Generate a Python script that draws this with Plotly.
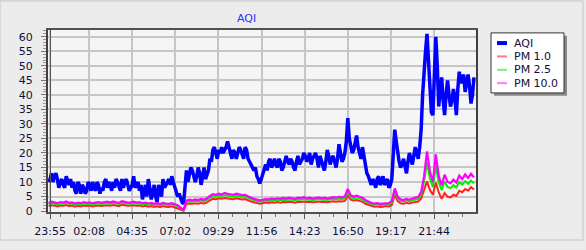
import pandas as pd
import plotly.graph_objects as go

# ---- data ----
start_time = "2024-05-01 23:50"
aqi_step_min = 5     # AQI sampled every 5 minutes
pm_step_min = 10     # PM sampled every 10 minutes

aqi = [10, 11, 13, 10, 12, 13, 11, 8, 10, 11, 9, 8, 12, 10, 9, 11, 8, 10, 7, 6,
       10, 9, 6, 9, 8, 6, 7, 10, 9, 7, 10, 8, 7, 10, 9, 6, 8, 7, 10, 11,
       8, 10, 9, 7, 10, 8, 11, 10, 8, 7, 11, 8, 10, 11, 9, 7, 8, 9, 12, 8,
       9, 10, 7, 9, 4, 7, 9, 5, 11, 8, 4, 6, 9, 5, 3, 9, 7, 5, 11, 8,
       9, 10, 11, 9, 12, 10, 8, 6, 5, 6, 4, 3, 2.5, 10, 14, 10, 12, 15, 14, 12,
       10, 12, 15, 13, 9, 12, 15, 11, 13, 14, 18, 17, 21, 22, 20, 18, 21, 20, 22, 20,
       21, 22, 24, 22, 19, 18, 21, 20, 18, 20, 22, 21, 19, 18, 22, 21, 18, 17, 16, 15,
       14, 15, 12, 11, 9.5, 11, 13, 15, 16, 14, 17, 18, 15, 16, 18, 16, 15, 18, 17, 14,
       15, 17, 19, 17, 16, 18, 17, 15, 14, 17, 19, 16, 17, 18, 20, 19, 17, 18, 20, 16,
       18, 19, 20, 18, 15, 19, 17, 16, 14, 17, 21, 19, 16, 18, 19, 17, 15, 18, 23, 20,
       17, 18, 20, 24, 32, 25, 22, 20, 21, 23, 26, 22, 20, 18, 22, 19, 16, 13, 12, 10,
       9, 11, 10, 8, 11, 12, 9, 10, 12, 9, 10, 11, 8, 9, 11, 20, 28, 24, 20, 17,
       15, 16, 18, 15, 13, 17, 20, 18, 16, 19, 22, 20, 18, 22, 28, 40, 50, 55, 61, 52,
       38, 34, 33, 45, 60, 50, 36, 42, 46, 38, 33, 40, 45, 40, 36, 38, 42, 39, 33, 42,
       48, 44, 46, 47, 41, 44, 47, 43, 37, 40, 46]

pm10 = [2.8, 3.2, 3.0, 2.7, 3.1, 2.9, 3.3, 2.8, 3.0, 2.6,
        2.9, 2.7, 3.1, 2.8, 3.0, 2.7, 2.9, 3.1, 2.8, 3.0,
        3.2, 2.9, 3.3, 3.0, 2.8, 3.4, 3.1, 2.9, 3.0, 3.2,
        2.9, 3.1, 2.7, 2.9, 2.6, 2.8, 2.5, 2.7, 2.4, 2.8,
        2.6, 2.5, 2.7, 2.3, 2.0, 1.2, 0.4,
        3.6, 3.9, 3.7, 4.0, 3.8, 4.2, 3.9, 4.4,
        5.2, 5.8, 5.6, 6.0, 5.7, 6.2, 5.9, 5.8, 5.6, 6.0, 5.7, 5.5, 5.6,
        5.0, 4.6, 4.2, 3.9, 3.7,
        3.9, 4.1, 4.0, 4.3, 4.1, 4.4, 4.2, 4.5, 4.3, 4.6, 4.4, 4.2, 4.6, 4.5, 4.8,
        4.4, 4.6, 4.3, 4.5, 4.7, 4.4, 4.6, 4.3, 4.5, 4.8, 4.6, 4.9, 4.7, 5.0,
        7.6, 5.4, 5.0, 5.3, 4.9, 4.6,
        3.8, 3.2, 2.8, 2.6, 2.7, 2.5, 2.6, 2.8, 2.7,
        3.4, 7.8, 5.0, 4.0, 3.8, 4.2, 3.9, 4.3, 4.6, 4.8, 6.5,
        12.0, 20.5, 13.5, 10.0, 19.5, 12.0, 8.8, 12.5, 10.0, 9.6, 10.8, 9.8,
        12.2, 11.0, 12.6, 11.4, 12.8, 11.6]

pm25 = [2.4, 2.7, 2.6, 2.3, 2.6, 2.5, 2.8, 2.4, 2.6, 2.2,
        2.5, 2.3, 2.6, 2.4, 2.6, 2.3, 2.5, 2.6, 2.4, 2.6,
        2.7, 2.5, 2.8, 2.6, 2.4, 2.9, 2.6, 2.5, 2.6, 2.7,
        2.5, 2.6, 2.3, 2.5, 2.2, 2.4, 2.1, 2.3, 2.0, 2.4,
        2.2, 2.1, 2.3, 1.9, 1.7, 1.0, 0.3,
        3.1, 3.4, 3.2, 3.5, 3.3, 3.6, 3.4, 3.8,
        4.6, 5.1, 5.0, 5.3, 5.1, 5.5, 5.2, 5.1, 5.0, 5.3, 5.0, 4.9, 5.0,
        4.4, 4.1, 3.7, 3.4, 3.2,
        3.4, 3.6, 3.5, 3.8, 3.6, 3.9, 3.7, 3.9, 3.8, 4.0, 3.9, 3.7, 4.0, 3.9, 4.2,
        3.9, 4.0, 3.8, 3.9, 4.1, 3.9, 4.0, 3.8, 3.9, 4.2, 4.0, 4.3, 4.1, 4.4,
        6.6, 4.8, 4.4, 4.7, 4.3, 4.0,
        3.3, 2.8, 2.4, 2.2, 2.3, 2.1, 2.2, 2.4, 2.3,
        2.9, 6.8, 4.4, 3.5, 3.3, 3.6, 3.4, 3.7, 4.0, 4.2, 5.6,
        10.2, 16.8, 11.2, 8.2, 15.5, 9.8, 7.2, 10.2, 8.3, 7.9, 8.9, 8.1,
        10.0, 9.1, 10.3, 9.4, 10.5, 9.6]

pm1 = [1.7, 2.0, 1.9, 1.6, 1.9, 1.8, 2.1, 1.7, 1.9, 1.5,
       1.8, 1.6, 1.9, 1.7, 1.9, 1.6, 1.8, 1.9, 1.7, 1.9,
       2.0, 1.8, 2.1, 1.9, 1.7, 2.2, 1.9, 1.8, 1.9, 2.0,
       1.8, 1.9, 1.6, 1.8, 1.5, 1.7, 1.4, 1.6, 1.3, 1.7,
       1.5, 1.4, 1.6, 1.2, 1.0, 0.5, 0.1,
       2.4, 2.6, 2.5, 2.7, 2.5, 2.8, 2.6, 3.0,
       3.7, 4.2, 4.1, 4.4, 4.2, 4.5, 4.3, 4.2, 4.1, 4.4, 4.1, 4.0, 4.1,
       3.6, 3.3, 3.0, 2.7, 2.5,
       2.7, 2.9, 2.8, 3.0, 2.9, 3.1, 2.9, 3.1, 3.0, 3.2, 3.1, 2.9, 3.2, 3.1, 3.3,
       3.1, 3.2, 3.0, 3.1, 3.3, 3.1, 3.2, 3.0, 3.1, 3.4, 3.2, 3.4, 3.3, 3.5,
       5.3, 3.9, 3.6, 3.8, 3.5, 3.2,
       2.5, 2.1, 1.7, 1.5, 1.6, 1.4, 1.5, 1.7, 1.6,
       2.1, 5.6, 3.4, 2.7, 2.5, 2.8, 2.6, 2.9, 3.2, 3.3, 4.3,
       7.5, 10.2, 7.2, 5.6, 9.8, 6.4, 4.2, 6.2, 5.0, 4.7, 5.6, 5.2,
       7.0, 6.5, 7.6, 7.0, 8.2, 7.4]

tick_labels = ["23:55", "02:08", "04:35", "07:02", "09:29",
               "11:56", "14:23", "16:50", "19:17", "21:44"]

series_names = ["AQI", "PM 1.0", "PM 2.5", "PM 10.0"]
series_colors = ["#0000ff", "#ff2020", "#00ee00", "#ff00ff"]
legend_colors = ["#0000ff", "#ff7a7a", "#7aee7a", "#ff7aff"]
series_widths = [3.5, 2, 2, 2.2]

# ---- build ----
aqi_times = pd.date_range(start_time, periods=len(aqi), freq=f"{aqi_step_min}min")
pm_times = pd.date_range(start_time, periods=len(pm10), freq=f"{pm_step_min}min")
day0 = pd.Timestamp("2024-05-01")
tickvals = []
for lab in tick_labels:
    hh, mm = map(int, lab.split(":"))
    d = day0 if hh == 23 else day0 + pd.Timedelta(days=1)
    tickvals.append(d + pd.Timedelta(hours=hh, minutes=mm))

x_range = [day0 + pd.Timedelta(hours=23, minutes=48),
           day0 + pd.Timedelta(days=2, minutes=7)]

fig = go.Figure()
for name, xs, ys, col, w in zip(series_names,
                                [aqi_times, pm_times, pm_times, pm_times],
                                [aqi, pm1, pm25, pm10],
                                series_colors, series_widths):
    fig.add_trace(go.Scatter(x=xs, y=ys, mode="lines", name=name,
                             line=dict(color=col, width=w),
                             showlegend=False))

W, H = 586, 250
L, R, T, B = 48, 476, 30, 218


def px(xp):
    return (xp - L) / (R - L)


def py(yp):
    return (B - yp) / (B - T)


shapes = []
annotations = []
# outer frame
shapes.append(dict(type="rect", xref="paper", yref="paper",
                   x0=px(0), x1=px(583), y0=py(247), y1=py(0),
                   line=dict(color="#c4c4c4", width=1), layer="below"))
# legend shadow + box
shapes.append(dict(type="rect", xref="paper", yref="paper",
                   x0=px(494), x1=px(567), y0=py(98), y1=py(36),
                   fillcolor="#8a8a8a", line=dict(width=0), layer="above"))
shapes.append(dict(type="rect", xref="paper", yref="paper",
                   x0=px(491), x1=px(564), y0=py(95), y1=py(33),
                   fillcolor="#ffffff", line=dict(color="#333333", width=1),
                   layer="above"))
for i, (name, col, w) in enumerate(zip(series_names, legend_colors, series_widths)):
    yy = 43.5 + i * 13.8
    shapes.append(dict(type="line", xref="paper", yref="paper",
                       x0=px(497), x1=px(507), y0=py(yy), y1=py(yy),
                       line=dict(color=col, width=4 if i == 0 else 2),
                       layer="above"))
    annotations.append(dict(xref="paper", yref="paper", x=px(512), y=py(yy),
                            text=name, showarrow=False, xanchor="left",
                            yanchor="middle",
                            font=dict(family="DejaVu Sans", size=11,
                                      color="#10103a")))
# inner left border line (double line look)
shapes.append(dict(type="line", xref="paper", yref="paper",
                   x0=px(50.5), x1=px(50.5), y0=0, y1=1,
                   line=dict(color="#555555", width=1), layer="above"))

annotations.append(dict(xref="paper", yref="paper", x=px(246), y=py(18),
                        text="AQI", showarrow=False, xanchor="center",
                        yanchor="middle",
                        font=dict(family="DejaVu Sans", size=11, color="#3030ff")))

tickfont = dict(family="DejaVu Sans", size=11, color="#10103a")

fig.update_layout(
    width=W, height=H,
    margin=dict(l=L, r=W - R, t=T, b=H - B, pad=0),
    paper_bgcolor="#ececec",
    plot_bgcolor="#f5f5f5",
    showlegend=False,
    shapes=shapes,
    annotations=annotations,
    xaxis=dict(
        range=x_range, type="date",
        tickmode="array", tickvals=tickvals, ticktext=tick_labels,
        tickfont=tickfont,
        showgrid=True, gridcolor="#c6c6c6", gridwidth=2,
        ticks="outside", ticklen=5, tickcolor="#555555", tickwidth=1,
        ticklabelstandoff=3,
        minor=dict(ticks="outside", ticklen=3, tickcolor="#777777",
                   dtick=49 * 60 * 1000, tick0=tickvals[1], showgrid=False),
        showline=True, linecolor="#505050", linewidth=2, mirror=True,
        zeroline=False, fixedrange=True,
    ),
    yaxis=dict(
        range=[-0.33, 62.33],
        tickmode="linear", tick0=0, dtick=5,
        tickfont=tickfont,
        showgrid=True, gridcolor="#c6c6c6", gridwidth=2,
        ticks="outside", ticklen=5, tickcolor="#777777", tickwidth=1,
        ticklabelstandoff=6,
        minor=dict(ticks="outside", ticklen=3, tickcolor="#999999",
                   dtick=1, showgrid=False),
        showline=True, linecolor="#404040", linewidth=2, mirror=True,
        zeroline=False, fixedrange=True,
    ),
)

fig.write_html("out.html")
